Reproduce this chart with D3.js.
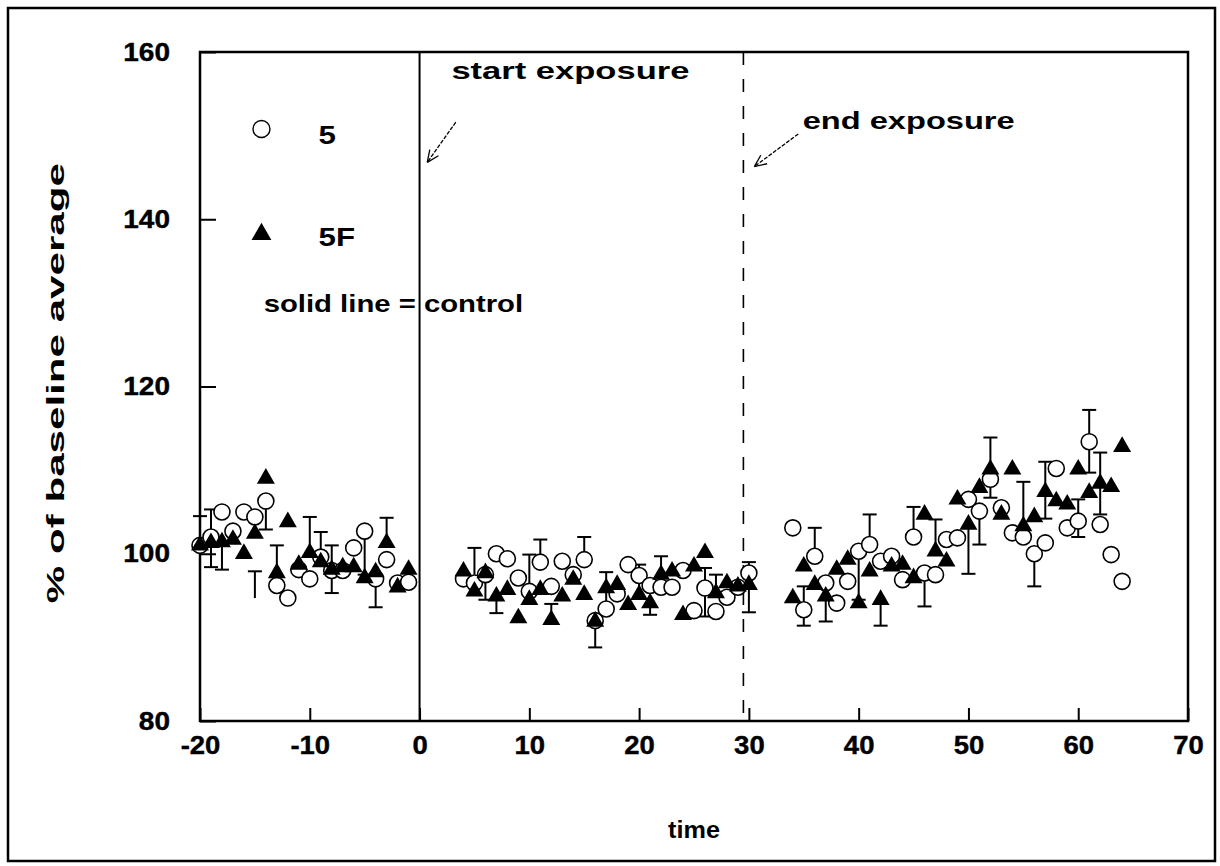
<!DOCTYPE html>
<html><head><meta charset="utf-8">
<script src="https://cdn.jsdelivr.net/npm/d3@7/dist/d3.min.js"></script>
<style>html,body{margin:0;padding:0;background:#fff}svg{display:block}text{font-family:"Liberation Sans",Arial,sans-serif;font-weight:bold;fill:#000}</style>
</head><body><svg id="c" width="1220" height="866"></svg>
<script>
// ---- data ----
const times = [-20,-19,-18,-17,-16,-15,-14,-13,-12,-11,-10,-9,-8,-7,-6,-5,-4,-3,-2,-1,
  4,5,6,7,8,9,10,11,12,13,14,15,16,17,18,19,20,21,22,23,24,25,26,27,28,29,30,
  34,35,36,37,38,39,40,41,42,43,44,45,46,47,48,49,50,51,52,53,54,55,56,57,58,59,60,61,62,63,64];
const series5 = [101,102,105,102.7,105,104.4,106.3,96.2,94.7,98.1,97,99.6,98,98,100.7,102.7,97,99.3,96.5,96.6,
  97,96.5,97.5,100,99.4,97.1,95.5,99,96.1,99.1,97.5,99.3,92,93.4,95.2,98.7,97.4,96.2,96,96,98,93.2,95.9,93.1,94.8,96,97.7,
  103.1,93.3,99.7,96.5,94.1,96.7,100.3,101.1,99.1,99.7,96.9,102,97.7,97.5,101.7,101.9,106.5,105.1,108.9,105.5,102.5,102,100,101.3,110.2,103.1,103.9,113.4,103.5,99.9,96.7];
const series5F = [101,101.3,101.4,101.7,100,102.4,109,97.7,103.8,98.7,100.1,99,98.1,98.4,98.4,97.1,97.8,101.3,96,98.1,
  97.9,95.5,97.7,94.9,95.7,92.3,94.5,95.7,92.1,94.9,96.9,95.1,91.9,95.9,96.3,93.9,95.1,94.1,97.5,97.9,92.7,98.5,100.1,95.3,96.5,96.1,96.3,
  94.7,98.5,96.3,94.9,98.1,99.3,94.1,97.9,94.5,98.5,98.7,97.1,104.7,100.3,99.1,106.5,103.5,107.9,110.1,104.7,110.1,103.3,104.4,107.4,106.3,105.9,110.1,107.3,108.4,108,112.8];
// error bars: time, start value, capped end value
const errTime = [-20,-19,-19,-18,-15,-14,-13,-10,-9,-8,-8,-5,-4,-3,
  5,6,7,10,11,12,15,16,17,20,21,22,26,26,27,30,30,
  35,35,36,37,40,41,42,45,46,47,50,51,52,52,55,56,57,57,60,60,61,61,62,62];
const errFrom = [101,102,101.3,101.4,94.7,106.3,97.7,100.1,99,98.4,98.1,102.7,97,101.3,
  97.5,97.7,94.9,94.5,99,92.1,99.3,91.9,93.4,95.1,94.1,97.5,95.9,95.9,95.3,97.7,96.3,
  93.3,93.3,99.7,94.9,100.3,101.1,94.5,102,97.7,100.3,103.5,105.1,110.1,108.9,103.3,100,107.4,107.4,103.9,103.9,113.4,113.4,108.4,108.4];
const errTo = [104.5,105.3,98.4,98.1,97.9,102.9,101,104.4,102.6,101,95.3,97.5,93.6,104.3,
  100.7,94.5,92.9,99.9,101.7,94,102,88.8,97.8,98.7,92.7,99.7,98.3,92.5,97.5,99,93,
  96.1,91.4,103.1,91.9,94.5,104.7,91.4,105.6,93.7,104.1,97.6,101.1,113.9,106.7,108.6,96.1,111,104.2,106.5,102,117.2,109.7,112.1,104.7];
const xTicks = [-20,-10,0,10,20,30,40,50,60,70];
const yTicks = [80,100,120,140,160];
const legendLabels = ["5","5F"];
const startLine = 0, endLine = 29.5;

// ---- drawing ----
const svg = d3.select("#c");
const x = d3.scaleLinear().domain([-20,70]).range([200,1188]);
const y = d3.scaleLinear().domain([80,160]).range([721,52]);

function stretch(sel, f){ sel.each(function(){ const L=this.getComputedTextLength(); d3.select(this).attr("textLength",L*f).attr("lengthAdjust","spacingAndGlyphs"); }); }

// outer frame
svg.append("rect").attr("x",8).attr("y",8).attr("width",1207).attr("height",853)
  .attr("fill","none").attr("stroke","#000").attr("stroke-width",2.5);

// axes
const gy = svg.append("g").attr("transform",`translate(${x(-20)},0)`)
  .call(d3.axisLeft(y).tickValues(yTicks).tickSize(-16).tickPadding(30).tickFormat(d=>String(d)));
const gx = svg.append("g").attr("transform",`translate(0,${y(80)})`)
  .call(d3.axisBottom(x).tickValues(xTicks).tickSize(-13).tickPadding(15).tickFormat(d=>String(d)));
[gx,gy].forEach(g=>{ g.select(".domain").remove(); g.selectAll(".tick line").attr("stroke","#000").attr("stroke-width",2);
  g.selectAll("text").attr("font-size",25).attr("fill","#000").attr("stroke","#000").attr("stroke-width",0.4)
   .style("font-family","'Liberation Sans',Arial,sans-serif").style("font-weight","bold"); });
gx.selectAll("text").call(stretch,1.1);
gy.selectAll("text").call(stretch,1.12);

// plot frame
svg.append("rect").attr("x",x(-20)).attr("y",y(160)).attr("width",x(70)-x(-20)).attr("height",y(80)-y(160))
  .attr("fill","none").attr("stroke","#000").attr("stroke-width",2.5);

// vertical markers
svg.append("line").attr("x1",x(startLine)).attr("x2",x(startLine)).attr("y1",y(160)).attr("y2",y(80)).attr("stroke","#000").attr("stroke-width",2);
svg.append("line").attr("x1",x(endLine)).attr("x2",x(endLine)).attr("y1",y(160)).attr("y2",y(80)).attr("stroke","#000").attr("stroke-width",1.6).attr("stroke-dasharray","13,14");

// error bars
const eg = svg.append("g").attr("stroke","#000").attr("stroke-width",2);
errTime.forEach((t,i)=>{
  eg.append("line").attr("x1",x(t)).attr("x2",x(t)).attr("y1",y(errFrom[i])).attr("y2",y(errTo[i]));
  eg.append("line").attr("x1",x(t)-7).attr("x2",x(t)+7).attr("y1",y(errTo[i])).attr("y2",y(errTo[i]));
});

// circles
svg.append("g").selectAll("circle").data(times).join("circle")
  .attr("cx",d=>x(d)).attr("cy",(d,i)=>y(series5[i])).attr("r",8)
  .attr("fill","#fff").attr("stroke","#000").attr("stroke-width",1.6);
// triangles
const tri = d3.symbol().type(d3.symbolTriangle).size(140);
svg.append("g").selectAll("path").data(times).join("path")
  .attr("d",tri).attr("transform",(d,i)=>`translate(${x(d)},${y(series5F[i])})`).attr("fill","#000");

// legend
svg.append("circle").attr("cx",x(-14.4)).attr("cy",y(150.8)).attr("r",8.5).attr("fill","#fff").attr("stroke","#000").attr("stroke-width",1.4);
svg.append("path").attr("d",d3.symbol().type(d3.symbolTriangle).size(170)).attr("transform",`translate(${x(-14.4)},${y(138.2)})`).attr("fill","#000");
svg.append("text").attr("x",x(-9.2)).attr("y",y(149)).attr("font-size",25).text(legendLabels[0]).call(stretch,1.25);
svg.append("text").attr("x",x(-9.2)).attr("y",y(136.8)).attr("font-size",25).text(legendLabels[1]).call(stretch,1.25);
svg.append("text").attr("x",x(-14.2)).attr("y",y(128.9)).attr("font-size",24).text("solid line = control").call(stretch,1.22);

// annotations
svg.append("text").attr("x",x(2.9)).attr("y",y(156.8)).attr("font-size",24).text("start exposure").attr("textLength",238).attr("lengthAdjust","spacingAndGlyphs");
svg.append("text").attr("x",x(34.9)).attr("y",y(150.8)).attr("font-size",24).text("end exposure").attr("textLength",212).attr("lengthAdjust","spacingAndGlyphs");
function arrow(t0,v0,t1,v1){
  const x0=x(t0),y0=y(v0),x1=x(t1),y1=y(v1);
  const a=Math.atan2(y1-y0,x1-x0), L=13, w=0.42;
  svg.append("line").attr("x1",x0).attr("y1",y0).attr("x2",x1).attr("y2",y1).attr("stroke","#000").attr("stroke-width",1.3).attr("stroke-dasharray","4,1.5");
  [a+Math.PI-w,a+Math.PI+w].forEach(b=>svg.append("line").attr("x1",x1).attr("y1",y1).attr("x2",x1+L*Math.cos(b)).attr("y2",y1+L*Math.sin(b)).attr("stroke","#000").attr("stroke-width",1.3));
}
arrow(3.3,151.6,0.7,146.8);
arrow(34.5,150.2,30.5,146.3);

// axis titles
svg.append("text").attr("x",x(25)).attr("y",838).attr("text-anchor","middle").attr("font-size",24).text("time").call(stretch,1.05);
svg.append("text").attr("transform",`translate(64,${y(120.4)}) rotate(-90)`).attr("text-anchor","middle").attr("font-size",24)
  .text("% of baseline average").attr("textLength",440).attr("lengthAdjust","spacingAndGlyphs");
</script></body></html>
